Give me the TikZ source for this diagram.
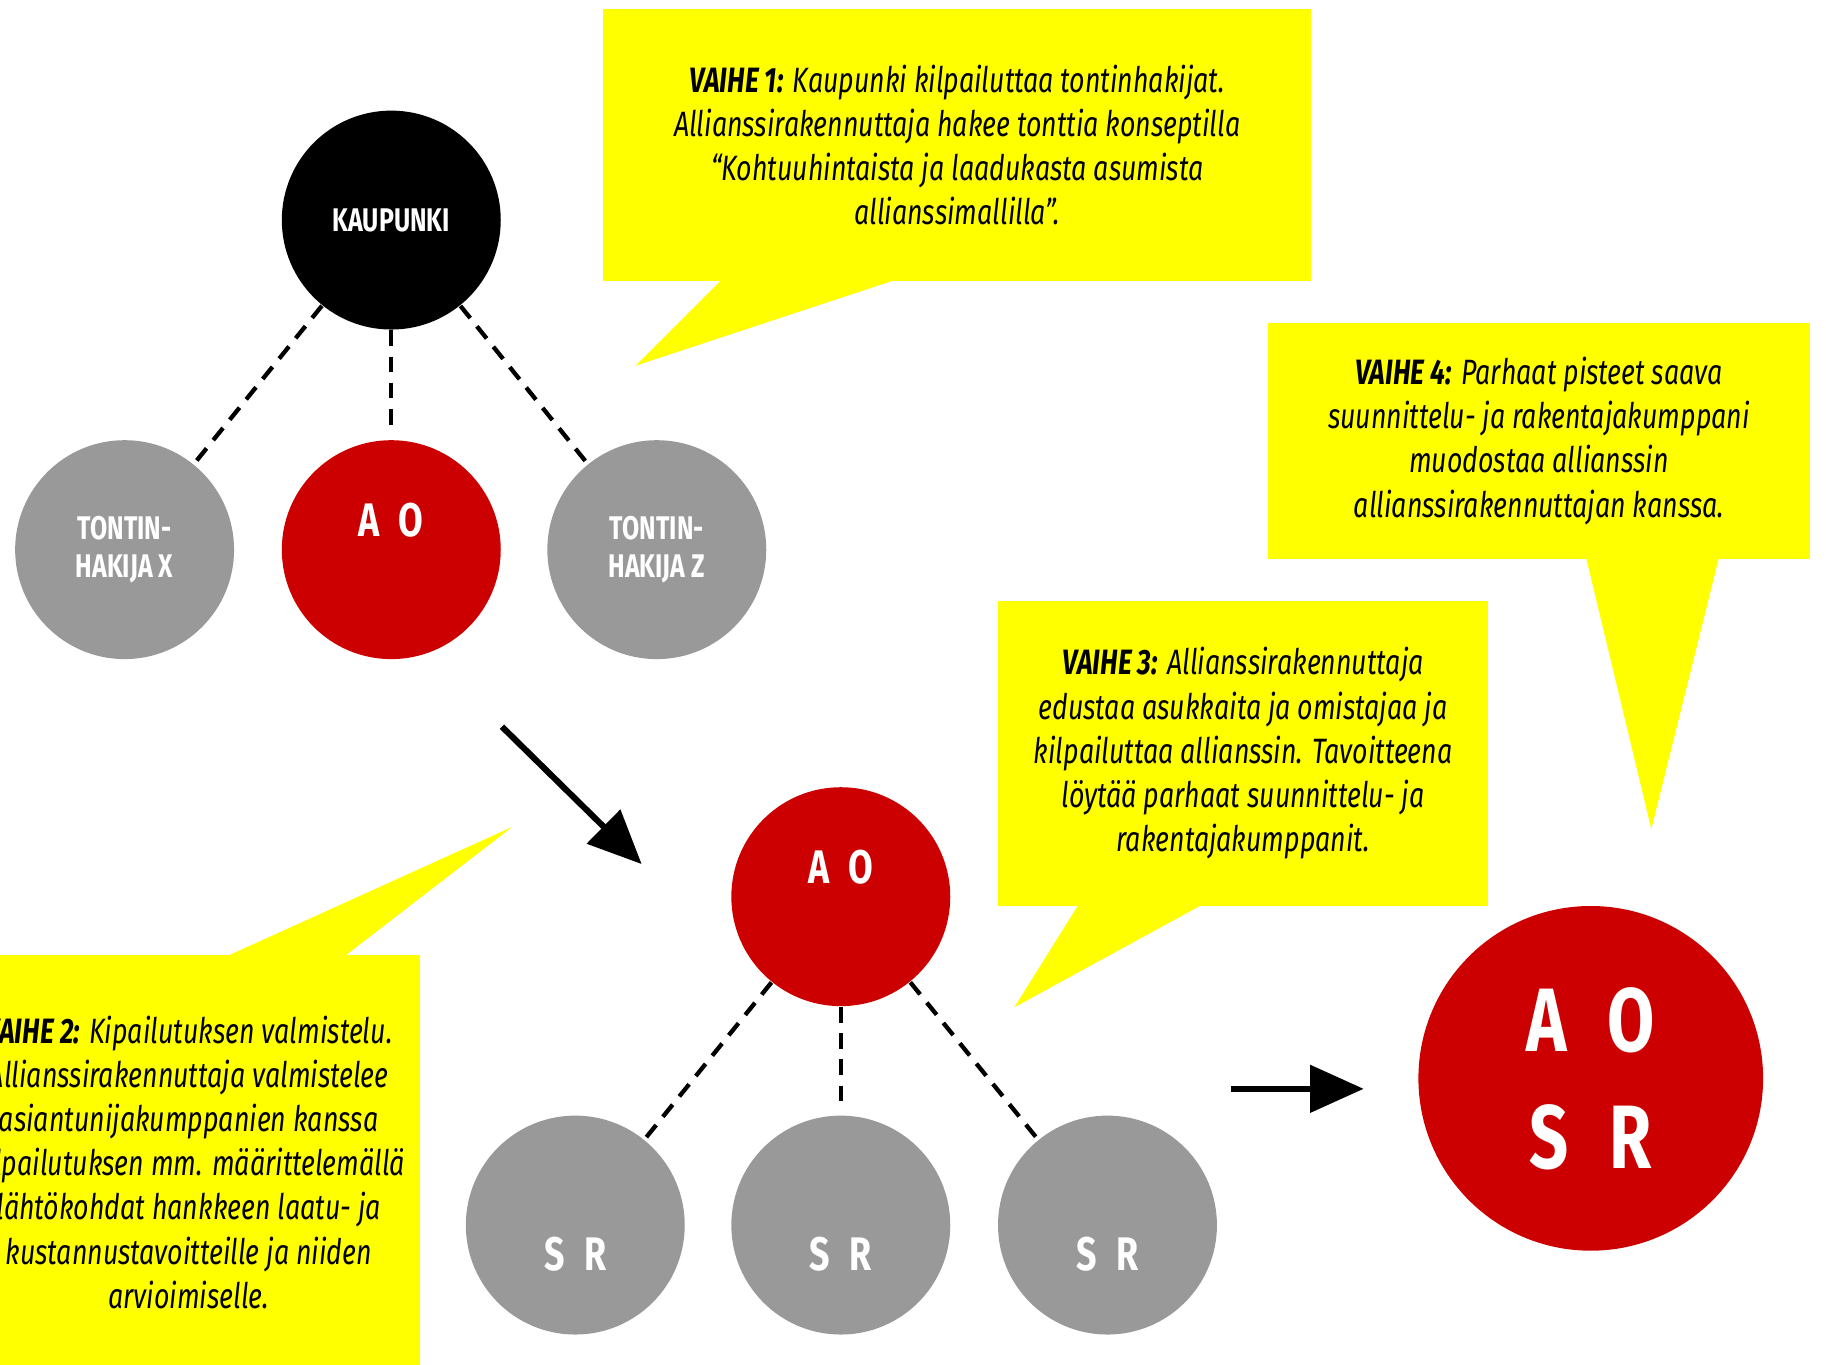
\documentclass[tikz,border=0pt]{standalone}
\usepackage{fontspec}
\setmainfont{Fira Sans}[FakeStretch=0.76]
\usetikzlibrary{arrows.meta}
\definecolor{ared}{HTML}{CC0000}
\definecolor{agray}{HTML}{999999}
\definecolor{ayellow}{HTML}{FFFF00}
\tikzset{
  circ/.style={circle, minimum size=18.8mm, inner sep=0pt, text=white, align=center,
    font=\fontsize{8}{9.1}\selectfont\bfseries},
  redc/.style={circ, fill=ared},
  grayc/.style={circ, fill=agray},
  blackc/.style={circ, fill=black},
  bigc/.style={circle, minimum size=29.6mm, inner sep=0pt, fill=ared},
  lbl/.style={text=white, inner sep=0pt, font=\fontsize{11.5}{12}\selectfont\bfseries},
  biglbl/.style={text=white, inner sep=0pt, font=\fontsize{22}{24}\selectfont\bfseries},
  bubble/.style={fill=ayellow, inner sep=0pt, align=center,
    font=\fontsize{8.6}{10.8}\selectfont\itshape},
  tail/.style={fill=ayellow},
  link/.style={line width=1.05pt, dash pattern=on 3.8pt off 2.6pt},
  flow/.style={line width=1.5pt, -{Triangle[length=4.6mm,width=4mm]}},
}
\begin{document}
\begin{tikzpicture}[x=0.1mm, y=-0.1mm]
\useasboundingbox (0,0) rectangle (1568,1172);
\clip (0,0) rectangle (1568,1172);
% speech bubbles
\fill[tail] (620,240) -- (546,314) -- (770,240) -- cycle;
\node[bubble, minimum width=60.8mm, minimum height=23.3mm] (b1) at (822,124.5)
  {\textbf{VAIHE 1:} Kaupunki kilpailuttaa tontinhakijat.\\
   Allianssirakennuttaja hakee tonttia konseptilla\\
   “Kohtuuhintaista ja laadukasta asumista\\
   allianssimallilla”.};
\fill[tail] (195,821) -- (440,710) -- (296,821) -- cycle;
\node[bubble, minimum width=39.8mm, minimum height=35.6mm] (b2) at (162,998)
  {\textbf{VAIHE 2:} Kipailutuksen valmistelu.\\
   Allianssirakennuttaja valmistelee\\
   asiantunijakumppanien kanssa\\
   kilpailutuksen mm. määrittelemällä\\
   lähtökohdat hankkeen laatu- ja\\
   kustannustavoitteille ja niiden\\
   arvioimiselle.};
\fill[tail] (926,777) -- (871,865) -- (1032,777) -- cycle;
\node[bubble, minimum width=42.1mm, minimum height=26.2mm] (b3) at (1067.5,647)
  {\textbf{VAIHE 3:} Allianssirakennuttaja\\
   edustaa asukkaita ja omistajaa ja\\
   kilpailuttaa allianssin. Tavoitteena\\
   löytää parhaat suunnittelu- ja\\
   rakentajakumppanit.};
\fill[tail] (1362,479) -- (1418,712) -- (1476,479) -- cycle;
\node[bubble, minimum width=46.5mm, minimum height=20.3mm] (b4) at (1321.5,378.5)
  {\textbf{VAIHE 4:} Parhaat pisteet saava\\
   suunnittelu- ja rakentajakumppani\\
   muodostaa allianssin\\
   allianssirakennuttajan kanssa.};
% stage 1
\node[blackc] (k) at (336,189) {KAUPUNKI};
\node[grayc] (tx) at (107,472) {TONTIN-\\HAKIJA X};
\node[redc] (ao1) at (336,472) {};
\node[grayc] (tz) at (564,472) {TONTIN-\\HAKIJA Z};
\node[lbl] (ao1t) at (336,447) {A\hspace{0.4em}O};
\draw[link] (k) -- (tx);
\draw[link, shorten >=0.8mm] (k) -- (ao1);
\draw[link] (k) -- (tz);
% stage 2-3
\node[redc] (ao2) at (722,770) {};
\node[lbl] (ao2t) at (722,745) {A\hspace{0.4em}O};
\node[grayc] (sr1) at (494,1052) {};
\node[grayc] (sr2) at (722,1052) {};
\node[grayc] (sr3) at (951,1052) {};
\node[lbl] (sr1t) at (494,1077) {S\hspace{0.42em}R};
\node[lbl] (sr2t) at (722,1077) {S\hspace{0.42em}R};
\node[lbl] (sr3t) at (951,1077) {S\hspace{0.42em}R};
\draw[link] (ao2) -- (sr1);
\draw[link, shorten >=1mm] (ao2) -- (sr2);
\draw[link] (ao2) -- (sr3);
% stage 4
\node[bigc] (big) at (1366,926) {};
\node[biglbl] (bigt1) at (1366,876) {A\hspace{0.45em}O};
\node[biglbl] (bigt2) at (1366,977) {S\hspace{0.45em}R};
% arrows
\coordinate (d1) at (431,624);
\coordinate (d2) at (551,742);
\draw[flow] (d1) -- (d2);
\coordinate (h1) at (1057,935);
\coordinate (h2) at (1171,935);
\draw[flow] (h1) -- (h2);
\end{tikzpicture}
\end{document}
